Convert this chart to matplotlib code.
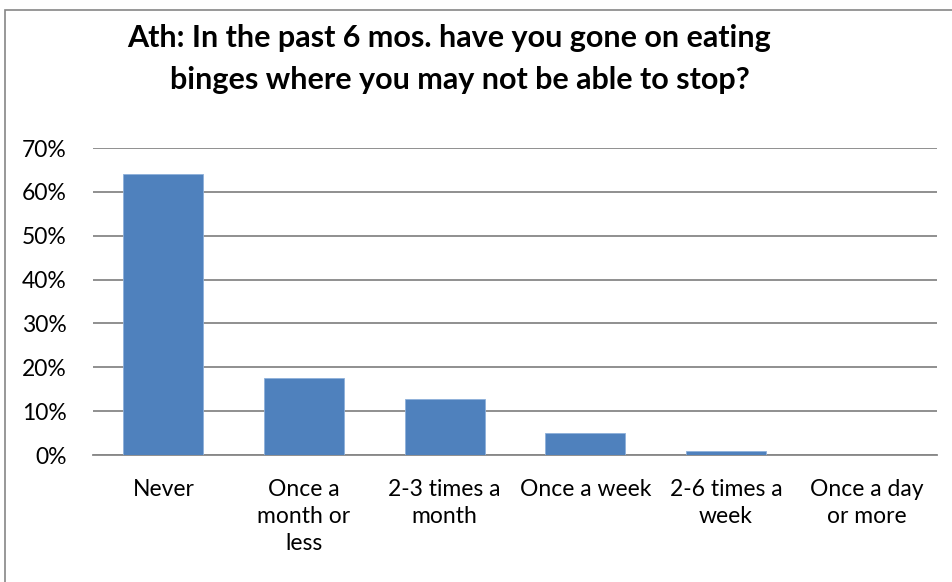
import matplotlib
matplotlib.use("Agg")
import matplotlib.pyplot as plt
from matplotlib.patches import Rectangle
import numpy as np

categories = ["Never", "Once a\nmonth or\nless", "2-3 times a\nmonth", "Once a week",
              "2-6 times a\nweek", "Once a day\nor more"]
values = [64.0, 17.5, 12.7, 5.0, 1.0, 0.0]
yticks = [0, 10, 20, 30, 40, 50, 60, 70]
ytick_labels = [f"{v}%" for v in yticks]
title_lines = ["Ath: In the past 6 mos. have you gone on eating",
               "binges where you may not be able to stop?"]

plt.rcParams['font.family'] = ['Lato', 'DejaVu Sans']

W, H = 953, 582
fig = plt.figure(figsize=(W / 100, H / 100), dpi=100)
fig.patch.set_facecolor("white")

# outer chart border (right and bottom edges fall outside the image)
fig.patches.append(Rectangle((4.5 / W, -0.05), 1.2, 1 - 10 / H + 0.05, transform=fig.transFigure,
                             fill=False, edgecolor="#868686", linewidth=1.2))

left, right = 93, 937
top, bottom = 148, 455
ax = fig.add_axes([left / W, 1 - bottom / H, (right - left) / W, (bottom - top) / H])

x = np.arange(len(categories))
ax.bar(x, values, width=0.57, color="#4F81BD", edgecolor="#8EB0DA", linewidth=0.6, zorder=3)
ax.set_xlim(-0.5, len(categories) - 0.5)
ax.set_ylim(0, 70)
ax.set_yticks(yticks)
ax.set_yticklabels(ytick_labels, fontsize=16.5)
ax.set_xticks(x)
ax.set_xticklabels(categories, fontsize=16.5, linespacing=1.36, va="top")
ax.yaxis.grid(True, color="#878787", linewidth=1.3, zorder=0)
for s in ["top", "right", "left"]:
    ax.spines[s].set_visible(False)
ax.spines["bottom"].set_color("#878787")
ax.spines["bottom"].set_linewidth(1.3)
ax.tick_params(axis="both", length=0, colors="black")
ax.tick_params(axis="y", pad=19)
ax.tick_params(axis="x", pad=17)

for line, (cx, base) in zip(title_lines, [(449, 47), (460, 89)]):
    fig.text(cx / W, 1 - base / H, line, ha="center", va="baseline", fontsize=22,
             fontweight="bold")

fig.savefig("out.png", dpi=100)
